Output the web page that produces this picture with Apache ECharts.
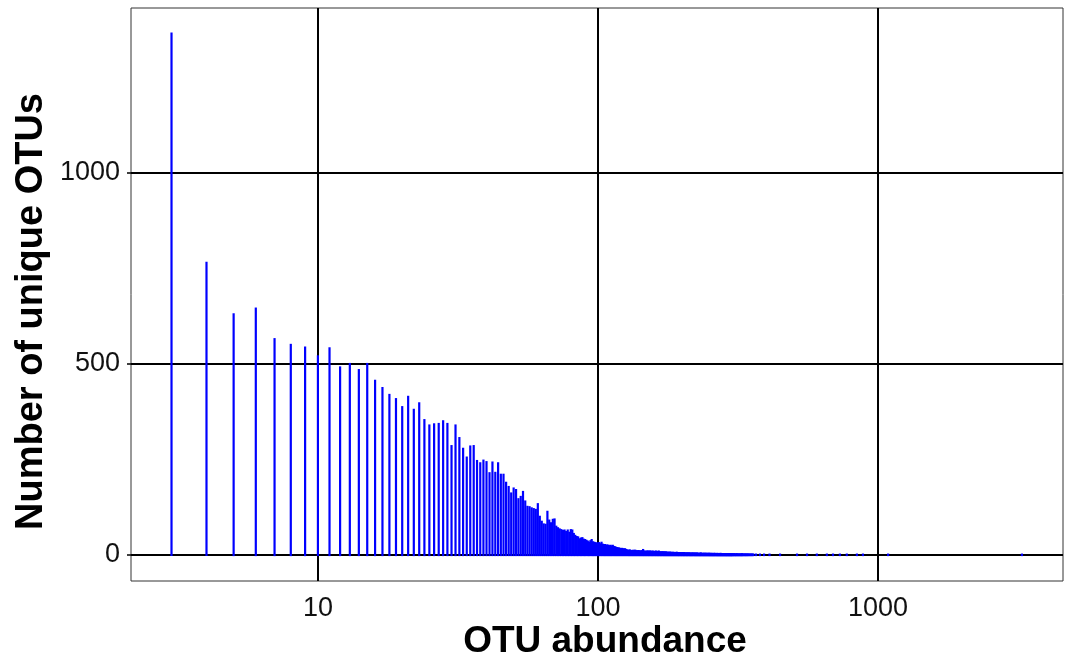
<!DOCTYPE html>
<html>
<head>
<meta charset="utf-8">
<title>OTU abundance</title>
<script src="https://cdn.jsdelivr.net/npm/echarts@6/dist/echarts.min.js"></script>
<style>
  html, body { margin: 0; padding: 0; background: #fff; }
  #chart { width: 1065px; height: 664px; }
</style>
</head>
<body>
<div id="chart"></div>
<script>
// number of unique OTUs for every abundance from 3 upwards
const firstAbundance = 3;
const denseCounts = [
  1365, 765, 630, 645, 565, 550, 543, 520, 541, 491, 500, 484, 500,          // 3-15
  456, 437, 419, 408, 387, 414, 380, 397, 353, 339, 342, 343, 350, 343, 285,  // 16-30
  339, 306, 278, 255, 284, 285, 246, 240, 247, 243, 214, 242, 215, 240, 210,  // 31-45
  210, 189, 178, 161, 174, 170, 146, 152, 165, 140, 126, 125, 122, 120, 118,  // 46-60
  133, 100, 87, 80, 79, 113, 90, 83, 92, 93, 74, 70, 67, 65, 63,              // 61-75
  64, 60, 64, 58, 65, 64, 55, 50, 47, 46, 41, 43, 44, 40, 39,                 // 76-90
  37, 35, 32, 36, 39, 33, 32, 31, 30, 30, 31, 28, 32, 27, 26,                 // 91-105
  26, 24, 25, 24, 23, 24, 22, 24, 21, 20, 19, 18, 17, 17, 16,                 // 106-120
  15, 16, 15, 14, 15, 13, 12, 11, 11, 12, 10, 10, 11, 10, 11,                 // 121-135
  11, 10, 9, 10, 10, 9, 9, 10, 9, 13, 9, 8, 9, 8, 9,                          // 136-150
  9, 8, 9, 9, 8, 8, 9, 8, 7, 8,
  9, 8, 7, 8, 9, 7, 7, 6, 7, 7,
  6, 7, 6, 6, 7, 5, 6, 6, 5, 6,
  6, 5, 6, 5, 5, 6, 5, 5, 4, 5,
  6, 5, 5, 4, 5, 4, 5, 4, 4, 5,                                               // 191-200
  4, 4, 5, 4, 4, 3, 4, 4, 4, 3,
  4, 4, 3, 4, 3, 3, 4, 3, 4, 3,
  3, 4, 3, 3, 3, 4, 3, 3, 2, 3,
  3, 3, 4, 3, 2, 3, 3, 2, 3, 3,
  3, 2, 3, 3, 2, 3, 2, 3, 3, 2,                                               // 241-250
  3, 2, 3, 2, 2, 3, 2, 2, 3, 2,
  2, 3, 2, 2, 2, 2, 3, 2, 2, 2,
  2, 2, 2, 3, 2, 2, 1, 2, 2, 2,
  2, 1, 2, 2, 2, 1, 2, 2, 1, 2,
  2, 1, 2, 1, 2, 2, 1, 1, 2, 1,                                               // 291-300
  1, 2, 1, 1, 0, 2, 1, 1, 1, 0,
  1, 1, 2, 1, 0, 1, 1, 0, 1, 1,
  1, 0, 1, 1, 1, 0, 2, 1, 0, 1,
  1, 0, 1, 0, 1, 1, 0, 1, 0, 1,
  1, 0, 0, 1, 1, 0, 1, 0, 0, 1,
  0, 1, 0, 1, 0, 0, 1, 0, 1, 0                                                // 351-360
];
// rare, very abundant OTUs in the long tail
const sparseAbundance = [367, 379, 392, 410, 447, 514, 558, 605, 657, 691, 731, 774, 841, 884, 1087, 3268];
const sparseCounts    = [1, 1, 1, 1, 1, 1, 1, 1, 1, 1, 1, 1, 1, 1, 1, 1];

const xTicks = [10, 100, 1000];
const yTicks = [0, 500, 1000];

const spikes = [];
denseCounts.forEach((c, i) => { if (c > 0) spikes.push([firstAbundance + i, c]); });
sparseAbundance.forEach((a, i) => { if (sparseCounts[i] > 0) spikes.push([a, sparseCounts[i]]); });

const chart = echarts.init(document.getElementById('chart'));

// vertical line from 0 up to the count at each abundance
function renderSpike(params, api) {
  const x = api.value(0);
  const p0 = api.coord([x, 0]);
  const p1 = api.coord([x, api.value(1)]);
  return {
    type: 'line',
    shape: { x1: p0[0], y1: p0[1], x2: p1[0], y2: p1[1] },
    style: { stroke: '#0000ff', lineWidth: 2.2, lineCap: 'square' }
  };
}

const plainNumber = v => String(Math.round(v));

chart.setOption({
  animation: false,
  backgroundColor: '#fff',
  grid: {
    left: 131, right: 2, top: 8, bottom: 83,
    outerBoundsMode: 'none',
    show: true, borderColor: '#333', borderWidth: 1, backgroundColor: 'transparent'
  },
  xAxis: {
    type: 'log',
    logBase: 10,
    min: 2.15,
    max: 4580,
    name: 'OTU abundance',
    nameLocation: 'middle',
    nameGap: 42,
    nameMoveOverlap: false,
    nameTextStyle: {
      fontFamily: 'Liberation Sans', fontSize: 37, fontWeight: 'bold', color: '#000',
      padding: [0, 0, 0, 16]
    },
    axisLine: { show: false },
    axisTick: { show: true, length: 4, customValues: xTicks, lineStyle: { color: '#000', width: 1.5 } },
    axisLabel: {
      customValues: xTicks,
      formatter: plainNumber,
      margin: 14,
      fontFamily: 'Liberation Sans', fontSize: 27, color: '#111'
    },
    splitLine: { show: true, lineStyle: { color: '#000', width: 2 } },
    minorTick: { show: false },
    minorSplitLine: { show: false }
  },
  yAxis: {
    type: 'value',
    min: -68,
    max: 1432,
    name: 'Number of unique OTUs',
    nameLocation: 'middle',
    nameGap: 80,
    nameMoveOverlap: false,
    nameTextStyle: {
      fontFamily: 'Liberation Sans', fontSize: 38, fontWeight: 'bold', color: '#000',
      padding: [0, 34, 0, 0]
    },
    axisLine: { show: false },
    axisTick: { show: true, length: 4, customValues: yTicks, lineStyle: { color: '#000', width: 1.5 } },
    axisLabel: {
      customValues: yTicks,
      formatter: plainNumber,
      margin: 11,
      fontFamily: 'Liberation Sans', fontSize: 27, color: '#111'
    },
    splitLine: { show: true, lineStyle: { color: '#000', width: 2 } }
  },
  series: [{
    type: 'custom',
    renderItem: renderSpike,
    encode: { x: 0, y: 1 },
    data: spikes,
    z: 5
  }]
});
</script>
</body>
</html>
